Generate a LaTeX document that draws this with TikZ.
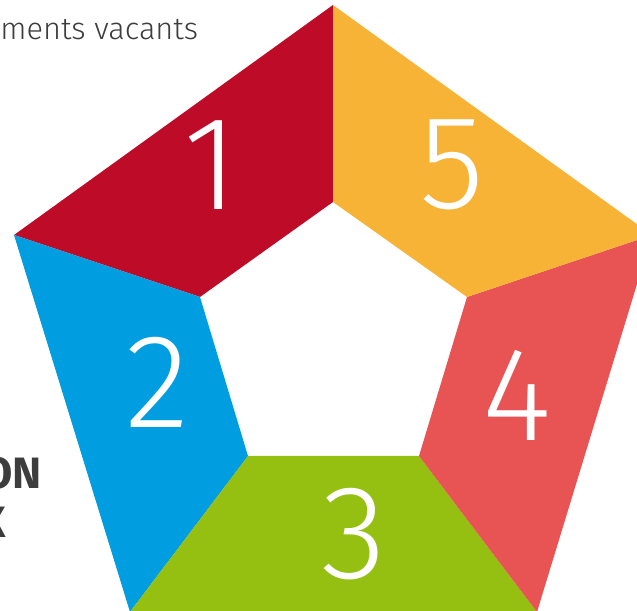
\documentclass[tikz,border=0pt]{standalone}
\usepackage{fontspec}
\setmainfont{Fira Sans}
\newfontfamily\thinfont{Fira Sans Light}
\usepackage{tikz}
\usetikzlibrary{positioning,calc}
\definecolor{rougeP}{RGB}{190,11,40}
\definecolor{orangeP}{RGB}{247,179,53}
\definecolor{corailP}{RGB}{232,83,83}
\definecolor{vertP}{RGB}{149,192,17}
\definecolor{bleuP}{RGB}{0,158,224}
\colorlet{DarkText}{black!76}

\begin{document}
\begin{tikzpicture}[x=0.02cm,y=-0.02cm,
        num/.style={text=white,font=\thinfont\fontsize{76}{76}\selectfont,inner sep=0pt},
        part/.style={draw=none}
      ]
        \useasboundingbox (0,0) rectangle (637,611);
        \clip (0,0) rectangle (637,611);
        % outer and inner pentagon
        \coordinate (o1) at (333,5);
        \coordinate (o2) at (14,235);
        \coordinate (o3) at (130,612);
        \coordinate (o4) at (537,612);
        \coordinate (o5) at (652,235);
        \coordinate (i1) at (333,202);
        \coordinate (i2) at (200,297);
        \coordinate (i3) at (248,456);
        \coordinate (i4) at (419,456);
        \coordinate (i5) at (467,297);
        \fill[part,rougeP] (o1) -- (o2) -- (i2) -- (i1) -- cycle;
        \fill[part,bleuP] (o2) -- (o3) -- (i3) -- (i2) -- cycle;
        \fill[part,vertP] (o3) -- (o4) -- (i4) -- (i3) -- cycle;
        \fill[part,corailP] (o4) -- (o5) -- (i5) -- (i4) -- cycle;
        \fill[part,orangeP] (o5) -- (o1) -- (i1) -- (i5) -- cycle;
        \node[num] (n1) at (211,165) {1};
        \node[num] (n2) at (157,382) {2};
        \node[num] (n3) at (354,534) {3};
        \node[num] (n4) at (517,395) {4};
        \node[num] (n5) at (452,165) {5};
        % side texts
        \node[anchor=base west,inner sep=0pt,text=DarkText,font=\thinfont\fontsize{17.5}{17.5}\selectfont] (vac) at (0,40) {ments vacants};
        \node[anchor=base east,inner sep=0pt,text=DarkText,font=\bfseries\fontsize{25}{25}\selectfont] (on) at (42,489) {ON};
        \node[anchor=base east,inner sep=0pt,text=DarkText,font=\bfseries\fontsize{25}{25}\selectfont] (x) at (6,538) {X};
      \end{tikzpicture}
\end{document}
